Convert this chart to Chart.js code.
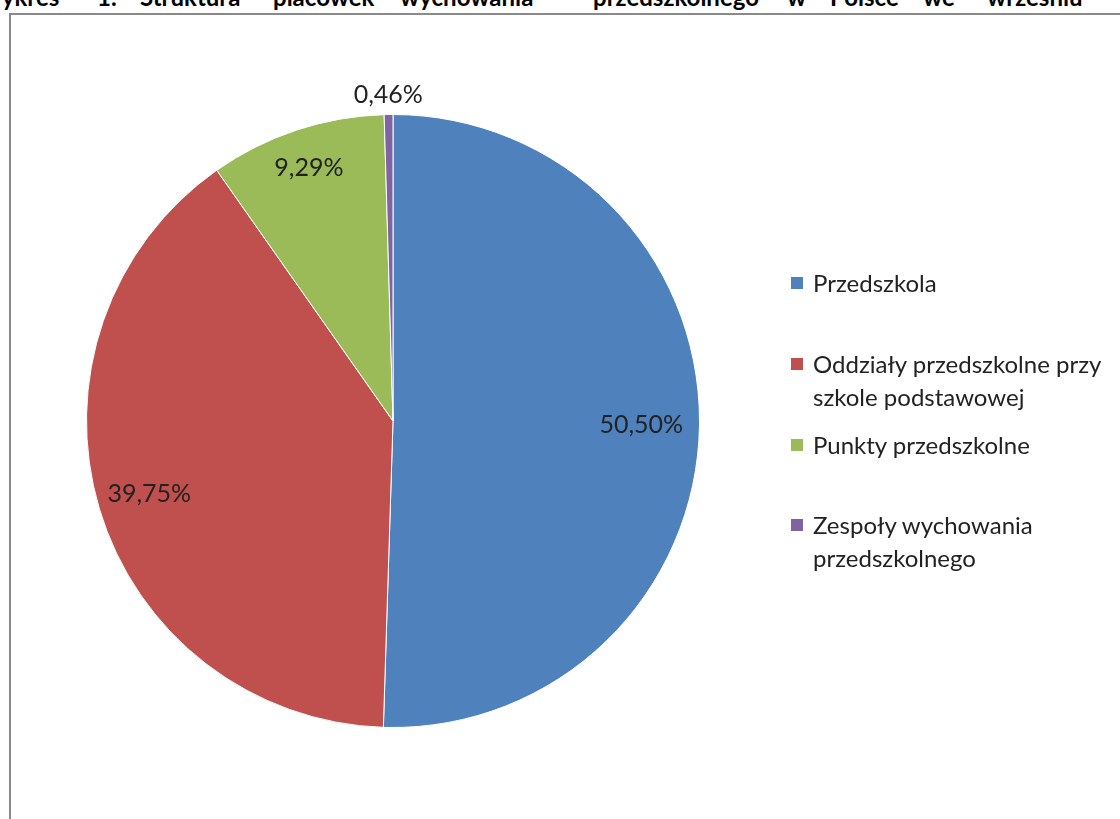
<!DOCTYPE html>
<html lang="pl">
<head>
    <meta charset="UTF-8">
    <title>Struktura placówek wychowania przedszkolnego</title>
    <script src="https://cdn.jsdelivr.net/npm/chart.js"></script>
    <style>
        html, body { margin: 0; padding: 0; background: #fff; overflow: hidden; }
        body { width: 1120px; height: 819px; position: relative; font-family: Lato, "Open Sans", sans-serif; }
        #title { position: absolute; left: 0; top: -15px; width: 1120px; height: 24px; }
        #title span { position: absolute; top: 0; font: bold 24px/24px Lato, sans-serif; color: #000; white-space: nowrap; }
        #frame {
            position: absolute; left: 9px; top: 13px; width: 1200px; height: 900px;
            border: 2px solid #8a8a8a;
        }
        #wrap { position: absolute; left: 0; top: 0; width: 1120px; height: 819px; }
        #legend { position: absolute; left: 791px; top: 266px; font-size: 24px; color: #222; }
        .item { position: absolute; left: 0; width: 330px; line-height: 33px; }
        .sw { position: absolute; left: 0; top: 11px; width: 12px; height: 12px; }
        .txt { position: absolute; left: 22px; top: 0; white-space: nowrap; }
    </style>
</head>
<body>
    <div id="title"></div>
    <div id="frame"></div>
    <div id="wrap"><canvas id="myChart" width="1120" height="819"></canvas></div>
    <div id="legend"></div>
    <script>
        const titleWords = ['Wykres', '1.', 'Struktura', 'placówek', 'wychowania', 'przedszkolnego', 'w', 'Polsce', 'we', 'wrześniu'];
        const titleWordX = [-23, 97, 140, 273, 400, 593, 787, 830, 923, 987];
        const categories = ['Przedszkola', 'Oddziały przedszkolne przy szkole podstawowej', 'Punkty przedszkolne', 'Zespoły wychowania przedszkolnego'];
        const legendLines = [['Przedszkola'], ['Oddziały przedszkolne przy', 'szkole podstawowej'], ['Punkty przedszkolne'], ['Zespoły wychowania', 'przedszkolnego']];
        const shares = [50.50, 39.75, 9.29, 0.46];
        const colors = ['#4F81BD', '#C0504D', '#9BBB59', '#8064A2'];

        // justified caption above the frame (only its lower part shows)
        const title = document.getElementById('title');
        titleWords.forEach((w, i) => {
            const s = document.createElement('span');
            s.textContent = w;
            s.style.left = titleWordX[i] + 'px';
            title.appendChild(s);
        });

        // legend
        const legendTops = [0, 81, 162, 242];
        const legend = document.getElementById('legend');
        categories.forEach((c, i) => {
            const el = document.createElement('div');
            el.className = 'item';
            el.style.top = legendTops[i] + 'px';
            el.innerHTML = '<div class="sw" style="background:' + colors[i] + '"></div>' +
                '<div class="txt">' + legendLines[i].join('<br>') + '</div>';
            legend.appendChild(el);
        });

        const labelRadius = [0.81, 0.83, 0.87, 1.065];

        const sliceLabels = {
            id: 'sliceLabels',
            afterDatasetsDraw(chart) {
                const ctx = chart.ctx;
                const meta = chart.getDatasetMeta(0);
                ctx.save();
                ctx.font = '25px Lato, sans-serif';
                ctx.fillStyle = '#222';
                ctx.textAlign = 'center';
                ctx.textBaseline = 'middle';
                meta.data.forEach((arc, i) => {
                    const p = arc.getProps(['x', 'y', 'startAngle', 'endAngle', 'outerRadius'], true);
                    const a = (p.startAngle + p.endAngle) / 2;
                    const r = p.outerRadius * labelRadius[i];
                    const txt = shares[i].toFixed(2).replace('.', ',') + '%';
                    ctx.fillText(txt, p.x + Math.cos(a) * r, p.y + Math.sin(a) * r);
                });
                ctx.restore();
            }
        };

        const ctx = document.getElementById('myChart').getContext('2d');
        new Chart(ctx, {
            type: 'pie',
            data: {
                labels: categories,
                datasets: [{
                    data: shares,
                    backgroundColor: colors,
                    borderColor: '#ffffff',
                    borderWidth: 1
                }]
            },
            options: {
                responsive: false,
                animation: false,
                layout: { padding: { left: 86, right: 420, top: 114, bottom: 91 } },
                plugins: {
                    legend: { display: false },
                    tooltip: { enabled: false }
                }
            },
            plugins: [sliceLabels]
        });
    </script>
</body>
</html>
